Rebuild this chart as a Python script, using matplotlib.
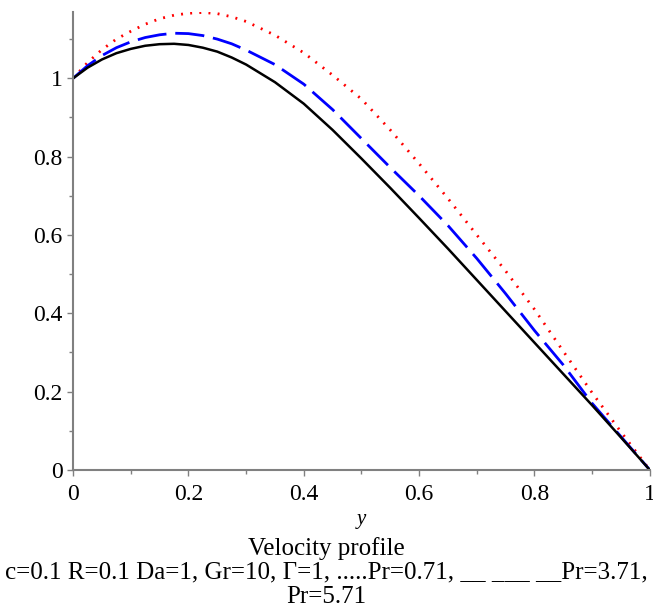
import matplotlib.pyplot as plt
from matplotlib.ticker import MultipleLocator

# velocity profiles
y = [0.0, 0.025, 0.05, 0.075, 0.1, 0.125, 0.15, 0.175, 0.2, 0.225, 0.25, 0.275, 0.3,
     0.35, 0.4, 0.45, 0.5, 0.55, 0.6, 0.65, 0.7, 0.75, 0.8, 0.85, 0.9, 0.95, 1.0]
u_pr071 = [1.0, 1.04, 1.073, 1.10, 1.12, 1.138, 1.152, 1.161, 1.166, 1.168, 1.165, 1.157, 1.145,
           1.11, 1.065, 1.008, 0.947, 0.868, 0.782, 0.693, 0.60, 0.508, 0.41, 0.303, 0.197, 0.097, 0.0]
u_pr371 = [1.0, 1.032, 1.058, 1.078, 1.093, 1.104, 1.111, 1.115, 1.114, 1.109, 1.10, 1.088, 1.072,
           1.035, 0.985, 0.92, 0.846, 0.772, 0.70, 0.624, 0.54, 0.45, 0.356, 0.268, 0.17, 0.085, 0.0]
u_pr571 = [1.0, 1.027, 1.048, 1.064, 1.075, 1.083, 1.087, 1.088, 1.085, 1.078, 1.068, 1.053, 1.035,
           0.99, 0.935, 0.868, 0.795, 0.72, 0.643, 0.565, 0.485, 0.405, 0.325, 0.245, 0.165, 0.083, 0.0]

plt.rcParams['font.family'] = ['Liberation Serif', 'DejaVu Serif']

fig = plt.figure(figsize=(6.53, 6.15), dpi=100)
ax = fig.add_axes([0.112, 0.236, 0.883, 0.745])

ax.plot(y, u_pr071, color='red', lw=2, linestyle=(0, (0.7, 2.6)))
ax.plot(y, u_pr371, color='blue', lw=2, linestyle=(0, (10.5, 3.2)))
ax.plot(y, u_pr571, color='black', lw=1.8)

ax.set_xlim(0, 1)
ax.set_ylim(0, 1.17)
for s in ['top', 'right']:
    ax.spines[s].set_visible(False)
for s in ['left', 'bottom']:
    ax.spines[s].set_color('#808080')
    ax.spines[s].set_linewidth(1.5)

ax.xaxis.set_minor_locator(MultipleLocator(0.1))
ax.yaxis.set_minor_locator(MultipleLocator(0.1))
ax.set_xticks([0, 0.2, 0.4, 0.6, 0.8, 1.0], ['0', '0.2', '0.4', '0.6', '0.8', '1'])
ax.set_yticks([0, 0.2, 0.4, 0.6, 0.8, 1.0], ['0', '0.2', '0.4', '0.6', '0.8', '1'])
ax.tick_params(which='both', colors='#808080', labelcolor='black', labelsize=17, width=1)
ax.tick_params(which='major', length=4)
ax.tick_params(which='minor', length=3)
ax.tick_params(axis='x', pad=6)

ax.set_xlabel('y', fontsize=15, style='italic', labelpad=4)

fig.text(0.5, 0.098, 'Velocity profile', ha='center', fontsize=18)
fig.text(0.5, 0.059, 'c=0.1 R=0.1 Da=1, Gr=10, \u0393=1, .....Pr=0.71, __ ___ __Pr=3.71,',
         ha='center', fontsize=18)
fig.text(0.5, 0.020, 'Pr=5.71', ha='center', fontsize=18)

fig.savefig('out.png', dpi=100)
